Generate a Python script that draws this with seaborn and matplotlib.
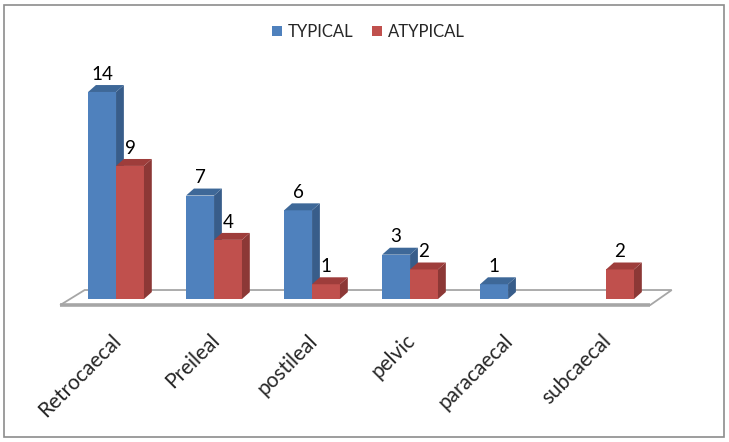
import matplotlib
matplotlib.use("Agg")
import matplotlib.pyplot as plt
import seaborn as sns
import pandas as pd
from matplotlib.patches import Polygon, Rectangle
from matplotlib.transforms import ScaledTranslation

categories = ["Retrocaecal", "Preileal", "postileal", "pelvic", "paracaecal", "subcaecal"]
typical = [14, 7, 6, 3, 1, 0]
atypical = [9, 4, 1, 2, 0, 2]
series = ["TYPICAL", "ATYPICAL"]

df = pd.DataFrame({
    "Position": categories * 2,
    "Type": [series[0]] * len(categories) + [series[1]] * len(categories),
    "Count": typical + atypical,
})

sns.set_theme(style="white")
plt.rcParams["font.family"] = ["Lato", "DejaVu Sans"]

front = {"TYPICAL": "#4F81BD", "ATYPICAL": "#C0504D"}
side = {"TYPICAL": "#385D8A", "ATYPICAL": "#8C3836"}
top = {"TYPICAL": "#3E6898", "ATYPICAL": "#9E3D3B"}

fig = plt.figure(figsize=(7.29, 4.42), dpi=100)
ax = fig.add_axes([0.0785, 0.29, 0.8537, 0.5688])

sns.barplot(data=df, x="Position", y="Count", hue="Type", hue_order=series,
            palette=front, width=0.57, saturation=1, ax=ax, linewidth=0)

n = len(categories)
ax.set_xlim(-0.6, n - 0.25)
ax.set_ylim(-1, 16)

# floor
floor = Polygon([(-0.57, -0.41), (n - 0.55, -0.41), (n - 0.33, 0.61), (-0.32, 0.61)],
                closed=True, facecolor="white", edgecolor="#A6A6A6", lw=1.3, zorder=0.5)
ax.add_patch(floor)
ax.plot([-0.57, n - 0.55], [-0.41, -0.41], color="#A6A6A6", lw=2.6, zorder=0.6,
        solid_capstyle="butt")

dx, dy = 0.08, 0.47
for k, (cont, name) in enumerate(zip(ax.containers, series)):
    z = 2 + k
    for bar, v in zip(cont.patches, cont.datavalues):
        bar.set_zorder(z)
        if not v or v != v:
            bar.set_visible(False)
            continue
        x0 = bar.get_x()
        w = bar.get_width()
        h = bar.get_height()
        ax.add_patch(Polygon([(x0 + w, 0), (x0 + w + dx, dy), (x0 + w + dx, h + dy), (x0 + w, h)],
                             closed=True, facecolor=side[name], edgecolor="none", zorder=z))
        ax.add_patch(Polygon([(x0, h), (x0 + dx, h + dy), (x0 + w + dx, h + dy), (x0 + w, h)],
                             closed=True, facecolor=top[name], edgecolor="none", zorder=z))
        ax.text(x0 + w / 2, h + dy + 0.15, f"{int(v)}", ha="center", va="bottom",
                fontsize=13.5, color="black", zorder=10)

ax.set_xticks(range(n))
ax.set_xticklabels(categories, rotation=45, ha="right", rotation_mode="anchor", fontsize=15)
ax.tick_params(axis="x", length=0, pad=12)
shift = ScaledTranslation(-5 / 100, 0, fig.dpi_scale_trans)
for lab in ax.get_xticklabels():
    lab.set_transform(lab.get_transform() + shift)
ax.set_yticks([])
ax.set_xlabel("")
ax.set_ylabel("")
sns.despine(ax=ax, left=True, bottom=True)

handles, labels = ax.get_legend_handles_labels()
ax.legend(handles, labels, loc="center", bbox_to_anchor=(0.505, 0.928),
          bbox_transform=fig.transFigure, ncol=2, frameon=False,
          handlelength=0.6, handleheight=0.6, handletextpad=0.35,
          columnspacing=1.1, fontsize=12)

fig.patches.append(Rectangle((4 / 729, 5 / 442), 720 / 729, 432 / 442,
                             transform=fig.transFigure, fill=False,
                             edgecolor="#8C8C8C", lw=1.2))

fig.savefig("out.png", dpi=100, facecolor="white")
